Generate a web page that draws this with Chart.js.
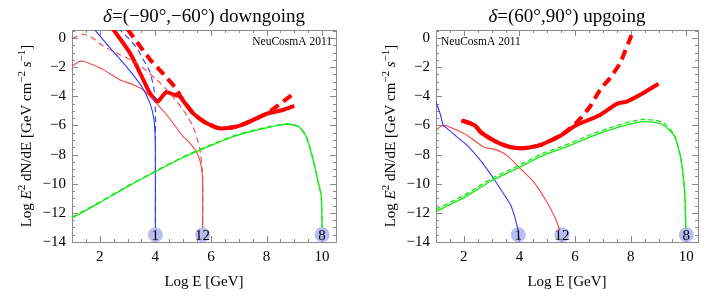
<!DOCTYPE html>
<html><head><meta charset="utf-8">
<script src="https://cdn.jsdelivr.net/npm/chart.js@4/dist/chart.umd.min.js"></script>
<style>
html,body{margin:0;padding:0;background:#fff;}
#wrap{position:relative;width:714px;height:298px;overflow:hidden;}
canvas{position:absolute;top:0;}
</style></head>
<body><div id="wrap"><canvas id="cL" width="357" height="298" style="left:0"></canvas><canvas id="cR" width="357" height="298" style="left:357px"></canvas></div>
<script>
// ---------- tick labels ----------
const xTickValues = [2,4,6,8,10];
const yTickValues = [0,-2,-4,-6,-8,-10,-12,-14];

// ---------- left panel: downgoing ----------
const L_blueSolid = [[1.8,0.6],[2.4,-0.75],[2.95,-1.95],[3.5,-3.3],[3.8,-4.45],[3.95,-5.6],[4.0,-7.5],[4.0,-13]];
const L_blueDash  = [[2.65,0.7],[3.0,0.05],[3.3,-0.6],[3.6,-1.6],[3.8,-2.3],[3.95,-3.5],[4.0,-5],[4.0,-13]];
const L_redSolid  = [[1.0,-1.94],[1.2,-1.66],[1.4,-1.59],[1.7,-1.8],[2.12,-2.17],[2.72,-2.86],[3.2,-3.2],[3.56,-3.55],[4.04,-4.48],[4.52,-5.54],[5.0,-6.78],[5.12,-6.95],[5.48,-7.8],[5.65,-8.8],[5.7,-10],[5.7,-13]];
const L_redDash   = [[1.0,-0.05],[1.2,0.15],[1.4,0.26],[1.7,0.05],[2.12,-0.55],[2.72,-1.13],[3.32,-1.71],[4.04,-2.86],[4.52,-3.78],[5.0,-4.94],[5.36,-6.09],[5.6,-7.6],[5.7,-9.5],[5.7,-13]];
const L_thickSolid = [[2.4,0.8],[3.08,-1.0],[3.5,-2.6],[3.8,-3.78],[3.98,-4.2],[4.1,-4.35],[4.25,-4.0],[4.4,-3.7],[4.6,-3.85],[4.88,-4.0],[5.0,-4.3],[5.36,-5.17],[5.8,-5.8],[6.31,-6.2],[6.9,-6.09],[7.39,-5.74],[7.99,-5.21],[8.59,-4.94],[9.0,-4.66]];
const L_thickDash  = [[3.0,0.6],[3.8,-1.45],[4.3,-2.5],[4.76,-3.5],[4.9,-4.0],[5.36,-5.17],[5.8,-5.8],[6.31,-6.2],[6.9,-6.09],[7.39,-5.74],[7.99,-5.21],[8.5,-4.5],[8.95,-3.85]];
const L_green      = [[1,-12.35],[2,-11.3],[3,-10.2],[4,-9.18],[5,-8.2],[5.71,-7.61],[6.78,-6.78],[7.7,-6.3],[8.59,-5.95],[8.9,-5.95],[9.19,-6.15],[9.43,-6.78],[9.67,-8.3],[9.85,-9.8],[9.97,-10.84],[10.0,-13]];
const L_greenDash  = [[1,-12.3],[2,-11.25],[3,-10.15],[4,-9.13],[5,-8.15],[5.71,-7.56],[6.78,-6.73],[7.7,-6.25],[8.59,-5.9],[8.9,-5.9],[9.19,-6.1],[9.43,-6.75],[9.67,-8.3],[9.85,-9.8],[9.97,-10.84],[10.0,-13]];
const L_markers    = [[4.0,-13.5],[5.7,-13.5],[10.0,-13.5]];
const L_markerText = ['1','12','8'];

// ---------- right panel: upgoing ----------
const R_blue  = [[1.0,-4.4],[1.15,-5.2],[1.26,-6.0],[1.36,-6.15],[1.7,-6.7],[2.13,-7.38],[2.6,-8.4],[3.09,-9.69],[3.4,-10.6],[3.69,-11.5],[3.85,-12.4],[3.95,-13.2]];
const R_red   = [[1.0,-6.34],[1.15,-6.1],[1.32,-6.0],[1.6,-6.2],[2.13,-6.69],[2.73,-7.5],[3.15,-7.66],[3.56,-8.07],[4.05,-9.0],[4.53,-9.92],[5.0,-11.3],[5.3,-12.4],[5.45,-13.2]];
const R_green = [[1.0,-11.9],[2,-10.95],[3,-9.8],[3.92,-8.95],[4.8,-8.1],[5.72,-7.45],[6.6,-6.75],[7.5,-6.15],[8.36,-5.75],[8.9,-5.8],[9.2,-6.0],[9.56,-6.69],[9.75,-7.8],[9.86,-9.0],[9.95,-10.8],[9.98,-13.1]];
const R_greenDash = [[1.0,-11.75],[2,-10.8],[3,-9.65],[3.92,-8.8],[4.8,-7.95],[5.72,-7.3],[6.6,-6.6],[7.5,-6.0],[8.36,-5.6],[8.9,-5.65],[9.2,-5.85],[9.56,-6.6],[9.75,-7.8],[9.86,-9.0],[9.95,-10.8],[9.98,-13.1]];
const R_thickSolid = [[1.92,-5.65],[2.4,-6.0],[2.61,-6.46],[3.0,-6.95],[3.33,-7.27],[3.7,-7.5],[4.05,-7.56],[4.4,-7.5],[4.77,-7.34],[5.1,-7.05],[5.49,-6.69],[5.94,-6.1],[6.2,-5.85],[6.9,-5.28],[7.5,-4.52],[7.86,-4.36],[8.34,-3.9],[9.0,-3.14]];
const R_thickDash  = [[1.92,-5.65],[2.4,-6.0],[2.61,-6.46],[3.0,-6.95],[3.33,-7.27],[3.7,-7.5],[4.05,-7.56],[4.4,-7.5],[4.77,-7.34],[5.1,-7.05],[5.49,-6.69],[5.94,-6.0],[6.2,-5.5],[6.54,-4.7],[6.9,-3.55],[7.26,-2.74],[7.62,-1.71],[7.92,-0.32],[8.16,0.83]];
const R_markers    = [[3.96,-13.5],[5.53,-13.5],[10.0,-13.5]];
const R_markerText = ['1','12','8'];

const SERIF = '"Liberation Serif","DejaVu Serif",serif';
const BLUE = 'rgb(40,60,250)', RED_T = 'rgb(245,70,70)', RED = 'rgb(255,0,0)', GREEN = 'rgb(20,235,20)';

function pts(a){ return a.map(p=>({x:p[0],y:p[1]})); }
function ds(data,color,width,dash){
  return {data:pts(data),borderColor:color,borderWidth:width,borderDash:dash||[],pointRadius:0,showLine:true,fill:false,tension:0.2,borderCapStyle:'butt'};
}
function drawSegs(ctx, segs, size, cx, cy){
  let total=0;
  const m = segs.map(s=>{
    const fs = s.sup ? Math.round(size*0.7) : size;
    const f = (s.it?'italic ':'')+fs+'px '+SERIF;
    ctx.font=f; const w=ctx.measureText(s.t).width; total+=w; return {s,f,w};
  });
  let x = cx - total/2;
  ctx.textBaseline='middle'; ctx.textAlign='left';
  m.forEach(o=>{ ctx.font=o.f; ctx.fillText(o.s.t, x, cy + (o.s.sup ? -size*0.35 : 0)); x+=o.w; });
}
const yLabelSegs = [{t:'Log '},{t:'E',it:true},{t:'2',sup:true},{t:' dN/dE [GeV cm'},{t:'−2',sup:true},{t:' '},{t:'s',it:true},{t:'−1',sup:true},{t:']'}];

const decoPlugin = {
  id:'deco',
  beforeDatasetsDraw(chart){
    const ctx=chart.ctx, a=chart.chartArea, xs=chart.scales.x, ys=chart.scales.y, o=chart.options.plugins.deco;
    ctx.save();
    ctx.strokeStyle='#8a8a8a'; ctx.lineWidth=1;
    ctx.strokeRect(Math.round(a.left)+0.5, Math.round(a.top)+0.5, Math.round(a.right-a.left), Math.round(a.bottom-a.top));
    ctx.beginPath();
    for(let v=1; v<=xs.max+1e-9; v+=0.5){
      const px=Math.round(xs.getPixelForValue(v))+0.5; if(px<a.left||px>a.right) continue;
      const L = (Math.abs(v%2)<1e-9)?6:3;
      ctx.moveTo(px,a.bottom); ctx.lineTo(px,a.bottom-L);
      ctx.moveTo(px,a.top); ctx.lineTo(px,a.top+L);
    }
    for(let v=-14; v<=ys.max+1e-9; v+=0.5){
      const py=Math.round(ys.getPixelForValue(v))+0.5;
      const L = (Math.abs(v%2)<1e-9)?6:3;
      ctx.moveTo(a.left,py); ctx.lineTo(a.left+L,py);
      ctx.moveTo(a.right,py); ctx.lineTo(a.right-L,py);
    }
    ctx.stroke();
    ctx.fillStyle='#000';
    drawSegs(ctx, o.title, 19, (a.left+a.right)/2, 17);
    drawSegs(ctx, [{t:'Log E [GeV]'}], 15, (a.left+a.right)/2, 282);
    ctx.save(); ctx.translate(o.yLabelX, (a.top+a.bottom)/2); ctx.rotate(-Math.PI/2);
    drawSegs(ctx, yLabelSegs, 15, 0, 0); ctx.restore();
    ctx.font='11.5px '+SERIF; ctx.textBaseline='middle';
    if(o.creditRight){ ctx.textAlign='right'; ctx.fillText('NeuCosmA 2011', a.right-4, 42); }
    else { ctx.textAlign='left'; ctx.fillText('NeuCosmA 2011', a.left+5, 42); }
    ctx.restore();
  },
  afterDatasetsDraw(chart){
    const ctx=chart.ctx, o=chart.options.plugins.deco, xs=chart.scales.x, ys=chart.scales.y;
    ctx.save(); ctx.fillStyle='#000'; ctx.font='15px '+SERIF; ctx.textAlign='center'; ctx.textBaseline='middle';
    o.markers.forEach((p,i)=>{ ctx.fillText(o.markerText[i], xs.getPixelForValue(p[0]), ys.getPixelForValue(p[1])+1); });
    ctx.restore();
  }
};

function makeChart(id, sets, cfg){
  return new Chart(document.getElementById(id), {
    type:'scatter',
    data:{datasets:[...sets,
      {data:pts(cfg.markers),pointRadius:7.5,pointHoverRadius:7.5,backgroundColor:'rgba(140,145,235,0.6)',borderWidth:0,showLine:false}]},
    options:{
      responsive:false, animation:false, devicePixelRatio:1,
      layout:{padding:{top:30,right:cfg.padRight,left:0,bottom:0}},
      plugins:{legend:{display:false},tooltip:{enabled:false},
        deco:{title:cfg.title,yLabelX:cfg.yLabelX,creditRight:cfg.creditRight,markers:cfg.markers,markerText:cfg.markerText}},
      scales:{
        x:{type:'linear',min:1,max:cfg.xMax,
          afterFit:s=>{s.height=56;},
          afterBuildTicks:s=>{s.ticks=xTickValues.map(v=>({value:v}));},
          grid:{display:false,drawTicks:false},border:{display:false},
          ticks:{padding:6,color:'#000',font:{family:SERIF,size:15},maxRotation:0,autoSkip:false,callback:v=>String(v)}},
        y:{type:'linear',min:-14,max:0.55,
          afterFit:s=>{s.width=cfg.yWidth;},
          afterBuildTicks:s=>{s.ticks=yTickValues.map(v=>({value:v}));},
          grid:{display:false,drawTicks:false},border:{display:false},
          ticks:{padding:6,color:'#000',font:{family:SERIF,size:15},autoSkip:false,callback:v=>v<0?'−'+Math.abs(v):String(v)}}
      }
    },
    plugins:[decoPlugin]
  });
}

makeChart('cL', [
  ds(L_green,GREEN,1.3), ds(L_greenDash,GREEN,1.3,[5,4]),
  ds(L_blueSolid,BLUE,1.1), ds(L_blueDash,BLUE,1.1,[6,4]),
  ds(L_redSolid,RED_T,1.1), ds(L_redDash,RED_T,1.1,[6,4]),
  ds(L_thickDash,RED,4,[10,6]), ds(L_thickSolid,RED,4)
], {title:[{t:'δ',it:true},{t:'=(−90°,−60°) downgoing'}], yLabelX:27, creditRight:true, markers:L_markers, markerText:L_markerText, padRight:21, yWidth:72, xMax:10.5});

makeChart('cR', [
  ds(R_green,GREEN,1.3), ds(R_greenDash,GREEN,1.3,[5,3]),
  ds(R_blue,BLUE,1.1), ds(R_red,RED_T,1.1),
  ds(R_thickDash,RED,4,[10,6]), ds(R_thickSolid,RED,4)
], {title:[{t:'δ',it:true},{t:'=(60°,90°) upgoing'}], yLabelX:34, creditRight:false, markers:R_markers, markerText:R_markerText, padRight:16, yWidth:79, xMax:10.42});
</script></body></html>
